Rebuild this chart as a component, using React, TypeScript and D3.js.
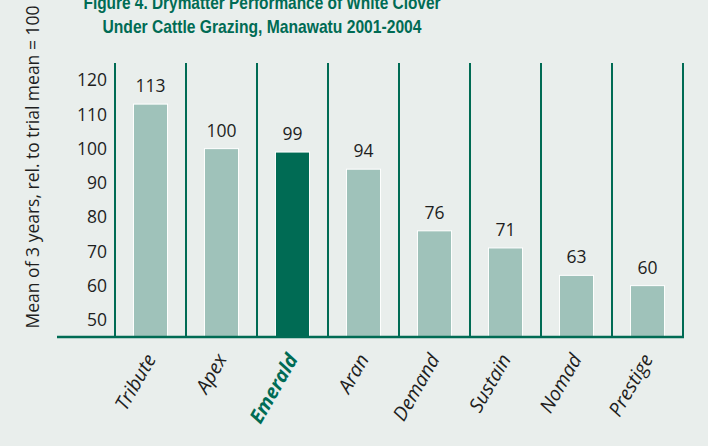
import React, { useEffect, useRef } from 'react';
import * as d3 from 'd3';

const cultivars = ['Tribute', 'Apex', 'Emerald', 'Aran', 'Demand', 'Sustain', 'Nomad', 'Prestige'];
const values = [113, 100, 99, 94, 76, 71, 63, 60];
const yTicks = [50, 60, 70, 80, 90, 100, 110, 120];
const highlight = 'Emerald';

const titleLines = [
  'Figure 4. Drymatter Performance of White Clover',
  'Under Cattle Grazing, Manawatu 2001-2004',
];
const titleWidths = [357, 319];
const yTitle = 'Mean of 3 years, rel. to trial mean = 100';

export default function App() {
  const svgRef = useRef<SVGSVGElement>(null);
  const W = 708;
  const H = 446;
  const green = '#006b54';
  const pale = '#9fc2ba';
  const font = '"Open Sans", "Liberation Sans", sans-serif';

  useEffect(() => {
    const svg = d3.select(svgRef.current);
    svg.selectAll('*').remove();

    svg.append('rect').attr('width', W).attr('height', H).attr('fill', '#e9eeec');

    const x = d3.scaleBand<string>()
      .domain(cultivars)
      .range([115, 683])
      .paddingInner(0.52)
      .paddingOuter(0.26);

    const y = d3.scaleLinear().domain([45, 125]).range([337, 63]);

    // title (first line runs off the top edge, as in the source figure)
    svg.append('g')
      .selectAll('text')
      .data(titleLines)
      .join('text')
      .attr('x', 262)
      .attr('y', (d, i) => 9 + i * 24)
      .attr('text-anchor', 'middle')
      .attr('font-family', '"Liberation Sans", Arial, sans-serif')
      .attr('font-weight', 700)
      .attr('font-size', 18.5)
      .attr('textLength', (d, i) => titleWidths[i])
      .attr('lengthAdjust', 'spacingAndGlyphs')
      .attr('fill', green)
      .text(d => d);

    // y axis title
    svg.append('text')
      .attr('transform', 'translate(39,167) rotate(-90)')
      .attr('text-anchor', 'middle')
      .attr('font-family', font)
      .attr('font-size', 17.5)
      .attr('fill', '#1e1e1e')
      .text(yTitle);

    // y tick labels
    svg.append('g')
      .selectAll('text')
      .data(yTicks)
      .join('text')
      .attr('x', 107)
      .attr('y', d => y(d))
      .attr('dy', '0.35em')
      .attr('text-anchor', 'end')
      .attr('font-family', font)
      .attr('font-size', 17.5)
      .attr('fill', '#1e1e1e')
      .text(d => d);

    // separators between cultivars
    const gap = (x.step() - x.bandwidth()) / 2;
    const bounds = cultivars.map(c => (x(c) as number) - gap).concat([(x(cultivars[cultivars.length - 1]) as number) + x.bandwidth() + gap]);
    svg.append('g')
      .selectAll('line')
      .data(bounds)
      .join('line')
      .attr('x1', d => d)
      .attr('x2', d => d)
      .attr('y1', y(125))
      .attr('y2', y(45))
      .attr('stroke', green)
      .attr('stroke-width', 2);

    // bars
    svg.append('g')
      .selectAll('rect')
      .data(cultivars)
      .join('rect')
      .attr('x', d => x(d) as number)
      .attr('y', (d, i) => y(values[i]))
      .attr('width', x.bandwidth())
      .attr('height', (d, i) => y(45) - y(values[i]))
      .attr('fill', d => (d === highlight ? green : pale))
      .attr('stroke', '#ffffff')
      .attr('stroke-width', 1);

    // baseline
    svg.append('line')
      .attr('x1', 57)
      .attr('x2', 684)
      .attr('y1', y(45))
      .attr('y2', y(45))
      .attr('stroke', green)
      .attr('stroke-width', 2.5);

    // value labels
    svg.append('g')
      .selectAll('text')
      .data(cultivars)
      .join('text')
      .attr('x', d => (x(d) as number) + x.bandwidth() / 2)
      .attr('y', (d, i) => y(values[i]) - 12)
      .attr('text-anchor', 'middle')
      .attr('font-family', font)
      .attr('font-size', 17.5)
      .attr('fill', '#1e1e1e')
      .text((d, i) => values[i]);

    // cultivar labels
    svg.append('g')
      .selectAll('text')
      .data(cultivars)
      .join('text')
      .attr('transform', d => `translate(${(x(d) as number) + x.bandwidth() / 2 + 6},${y(45) + 22}) rotate(-60)`)
      .attr('text-anchor', 'end')
      .attr('font-family', font)
      .attr('font-style', 'italic')
      .attr('font-weight', d => (d === highlight ? 700 : 400))
      .attr('font-size', 19.5)
      .attr('fill', d => (d === highlight ? green : '#1e1e1e'))
      .text(d => d);
  }, []);

  return (
    <div style={{ position: 'fixed', left: 0, top: 0 }}>
      <svg ref={svgRef} width={W} height={H} style={{ display: 'block' }}></svg>
    </div>
  );
}
